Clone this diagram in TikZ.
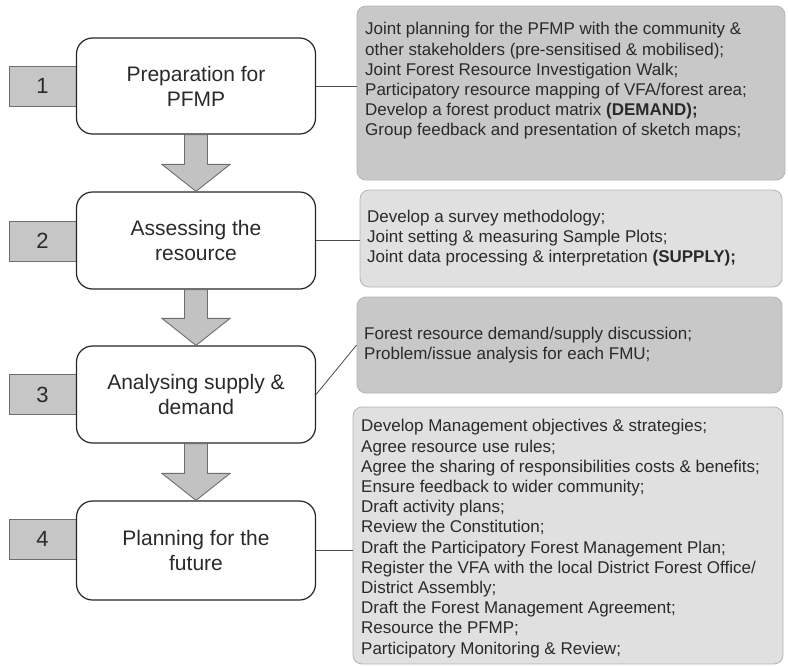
\documentclass[tikz,border=0pt]{standalone}
\usepackage{fontspec}
\setmainfont{Liberation Sans}
\usetikzlibrary{calc}

\definecolor{numfill}{HTML}{C6C6C6}
\definecolor{numline}{HTML}{6E6E6E}
\definecolor{arrowfill}{HTML}{C2C2C2}
\definecolor{darkpanel}{HTML}{C8C8C8}
\definecolor{lightpanel}{HTML}{E0E0E0}
\definecolor{panelline}{HTML}{B4B4B4}
\definecolor{textgray}{HTML}{2A2A2A}

\tikzset{
  stepbox/.style={draw=black!85, line width=1.2pt, fill=white, rounded corners=16pt,
    minimum width=239pt, align=center, text=textgray,
    font=\fontsize{21}{25}\selectfont},
  numbox/.style={draw=numline, line width=0.9pt, fill=numfill, minimum width=67pt,
    minimum height=40pt, text=textgray, font=\fontsize{22}{26}\selectfont},
  panel/.style={draw=panelline, line width=0.8pt, rounded corners=9pt, inner sep=0pt},
  paneltext/.style={anchor=west, align=left, inner sep=0pt, text=textgray,
    font=\fontsize{17}{20.2}\selectfont},
  bigarrow/.style={draw=numline, line width=0.9pt, fill=arrowfill, line join=miter},
  link/.style={draw=black!70, line width=0.8pt}
}

% down arrow from the bottom of one step to the top of the next
\newcommand\flowarrow[2]{%
  \draw[bigarrow] ($(#1.south)+(-11.5,0)$) -- ($(#1.south)+(11.5,0)$)
    -- ($(#2.north)+(11.5,-27)$) -- ($(#2.north)+(34,-27)$) -- (#2.north)
    -- ($(#2.north)+(-34,-27)$) -- ($(#2.north)+(-11.5,-27)$) -- cycle;}

\begin{document}
\begin{tikzpicture}[x=1pt,y=-1pt]
\useasboundingbox (0,0) rectangle (788,667);

% numbered tabs
\node[numbox] (n1) at (42.5,86) {1};
\node[numbox] (n2) at (42.5,241) {2};
\node[numbox] (n3) at (42.5,394.5) {3};
\node[numbox] (n4) at (42.5,539) {4};

% process steps
\node[stepbox, minimum height=96pt] (s1) at (196,86) {Preparation for\\PFMP};
\node[stepbox, minimum height=97pt] (s2) at (196,240.5) {Assessing the\\resource};
\node[stepbox, minimum height=97pt] (s3) at (196,394.5) {Analysing supply \&\\demand};
\node[stepbox, minimum height=99pt] (s4) at (196,550.5) {Planning for the\\future};

\flowarrow{s1}{s2}
\flowarrow{s2}{s3}
\flowarrow{s3}{s4}

% activity panels
\node[panel, fill=darkpanel, minimum width=428pt, minimum height=174pt] (pA) at (571,93) {};
\node[panel, fill=lightpanel, minimum width=422pt, minimum height=97pt] (pB) at (571,238.5) {};
\node[panel, fill=darkpanel, minimum width=425pt, minimum height=96pt] (pC) at (569.5,345) {};
\node[panel, fill=lightpanel, minimum width=430pt, minimum height=257pt] (pD) at (568,535.5) {};

\node[paneltext] (tA) at (365,81) {Joint planning for the PFMP with the community \&\\
other stakeholders (pre-sensitised \& mobilised);\\
Joint Forest Resource Investigation Walk;\\
Participatory resource mapping of VFA/forest area;\\
Develop a forest product matrix \textbf{(DEMAND);}\\
Group feedback and presentation of sketch maps;};

\node[paneltext] (tB) at (367,238) {Develop a survey methodology;\\
Joint setting \& measuring Sample Plots;\\
Joint data processing \& interpretation \textbf{(SUPPLY);}};

\node[paneltext] (tC) at (364,345) {Forest resource demand/supply discussion;\\
Problem/issue analysis for each FMU;};

\node[paneltext] (tD) at (361,538.5) {Develop Management objectives \& strategies;\\
Agree resource use rules;\\
Agree the sharing of responsibilities costs \& benefits;\\
Ensure feedback to wider community;\\
Draft activity plans;\\
Review the Constitution;\\
Draft the Participatory Forest Management Plan;\\
Register the VFA with the local District Forest Office/\\
District Assembly;\\
Draft the Forest Management Agreement;\\
Resource the PFMP;\\
Participatory Monitoring \& Review;};

% links from steps to panels
\draw[link] (s1.east) -- (s1.east -| pA.west);
\draw[link] (s2.east) -- (s2.east -| pB.west);
\draw[link] (s3.east) -- (pC.west);
\draw[link] (s4.east) -- (s4.east -| pD.west);
\end{tikzpicture}
\end{document}
